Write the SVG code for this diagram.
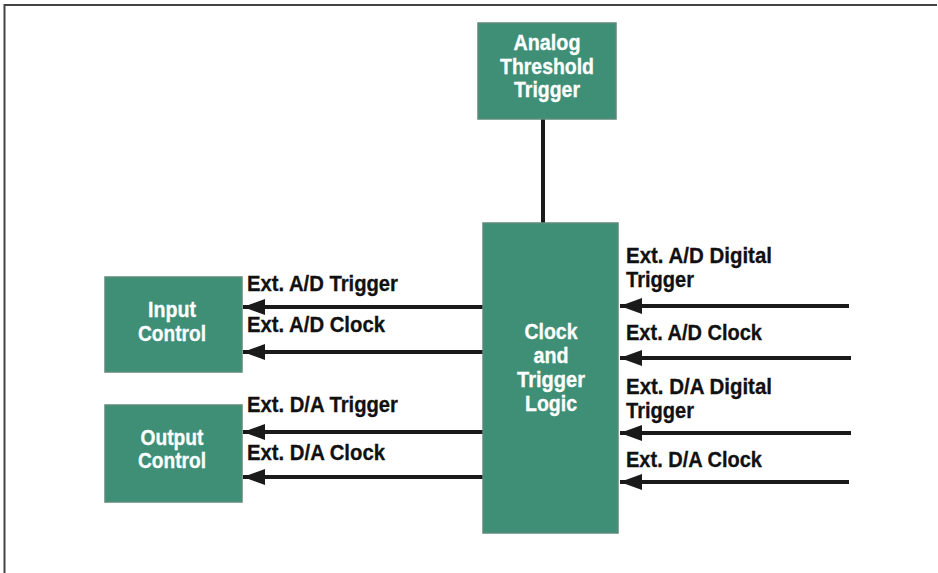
<svg xmlns="http://www.w3.org/2000/svg" width="938" height="573" viewBox="0 0 938 573">
<defs>
<marker id="ah" markerUnits="userSpaceOnUse" markerWidth="22" markerHeight="16" viewBox="0 0 22 16" refX="22" refY="8" orient="auto">
<path d="M0,0 L22,8 L0,16 z" fill="#1a1a1a"/>
</marker>
</defs>
<style>
.box{fill:#3f8f77;stroke:#5d8a7a;stroke-width:1.5}
.bt{font-family:"Liberation Sans",Arial,sans-serif;font-weight:bold;font-size:22px;fill:#ffffff;stroke:#ffffff;stroke-width:0.3;text-anchor:middle}
.lb{font-family:"Liberation Sans",Arial,sans-serif;font-weight:bold;font-size:22px;fill:#111111;stroke:#111111;stroke-width:0.3}
.ln{stroke:#1a1a1a;stroke-width:4;fill:none}
.ar{stroke:#1a1a1a;stroke-width:4;fill:none;marker-end:url(#ah)}
.fr{stroke:#444444;stroke-width:2;fill:none}
</style>
<rect x="0" y="0" width="938" height="573" fill="#ffffff"/>
<path class="fr" d="M4.5,573 L4.5,5 L937,5"/>

<g id="connectors">
<line class="ln" x1="543" y1="119" x2="543" y2="223"/>
<line class="ar" x1="483" y1="307" x2="243" y2="307"/>
<line class="ar" x1="483" y1="352" x2="243" y2="352"/>
<line class="ar" x1="483" y1="432" x2="243" y2="432"/>
<line class="ar" x1="483" y1="477" x2="243" y2="477"/>
<line class="ar" x1="849" y1="306" x2="620" y2="306"/>
<line class="ar" x1="851" y1="358" x2="620" y2="358"/>
<line class="ar" x1="851" y1="433" x2="620" y2="433"/>
<line class="ar" x1="849" y1="482" x2="620" y2="482"/>
<text class="lb" x="247" y="291" textLength="151" lengthAdjust="spacingAndGlyphs">Ext. A/D Trigger</text>
<text class="lb" x="247" y="332" textLength="138" lengthAdjust="spacingAndGlyphs">Ext. A/D Clock</text>
<text class="lb" x="247" y="412" textLength="151" lengthAdjust="spacingAndGlyphs">Ext. D/A Trigger</text>
<text class="lb" x="247" y="460" textLength="138" lengthAdjust="spacingAndGlyphs">Ext. D/A Clock</text>
<text class="lb" x="626" y="263" textLength="146" lengthAdjust="spacingAndGlyphs">Ext. A/D Digital</text>
<text class="lb" x="626" y="287" textLength="68" lengthAdjust="spacingAndGlyphs">Trigger</text>
<text class="lb" x="626" y="340" textLength="136" lengthAdjust="spacingAndGlyphs">Ext. A/D Clock</text>
<text class="lb" x="626" y="394" textLength="146" lengthAdjust="spacingAndGlyphs">Ext. D/A Digital</text>
<text class="lb" x="626" y="418" textLength="68" lengthAdjust="spacingAndGlyphs">Trigger</text>
<text class="lb" x="626" y="467" textLength="136" lengthAdjust="spacingAndGlyphs">Ext. D/A Clock</text>
</g>

<g id="analog-threshold-trigger">
<rect class="box" x="478" y="23" width="138" height="96"/>
<text class="bt" x="547" y="50" textLength="67" lengthAdjust="spacingAndGlyphs">Analog</text>
<text class="bt" x="547" y="74" textLength="94" lengthAdjust="spacingAndGlyphs">Threshold</text>
<text class="bt" x="547" y="97" textLength="66" lengthAdjust="spacingAndGlyphs">Trigger</text>
</g>

<g id="clock-trigger-logic">
<rect class="box" x="483" y="223" width="135" height="310"/>
<text class="bt" x="551" y="339" textLength="53" lengthAdjust="spacingAndGlyphs">Clock</text>
<text class="bt" x="551" y="363" textLength="35" lengthAdjust="spacingAndGlyphs">and</text>
<text class="bt" x="551" y="387" textLength="68" lengthAdjust="spacingAndGlyphs">Trigger</text>
<text class="bt" x="551" y="411" textLength="52" lengthAdjust="spacingAndGlyphs">Logic</text>
</g>

<g id="input-control">
<rect class="box" x="105" y="277" width="137" height="95"/>
<text class="bt" x="172" y="317" textLength="48" lengthAdjust="spacingAndGlyphs">Input</text>
<text class="bt" x="172" y="341" textLength="68" lengthAdjust="spacingAndGlyphs">Control</text>
</g>

<g id="output-control">
<rect class="box" x="105" y="405" width="137" height="97"/>
<text class="bt" x="172" y="445" textLength="63" lengthAdjust="spacingAndGlyphs">Output</text>
<text class="bt" x="172" y="468" textLength="68" lengthAdjust="spacingAndGlyphs">Control</text>
</g>
</svg>
